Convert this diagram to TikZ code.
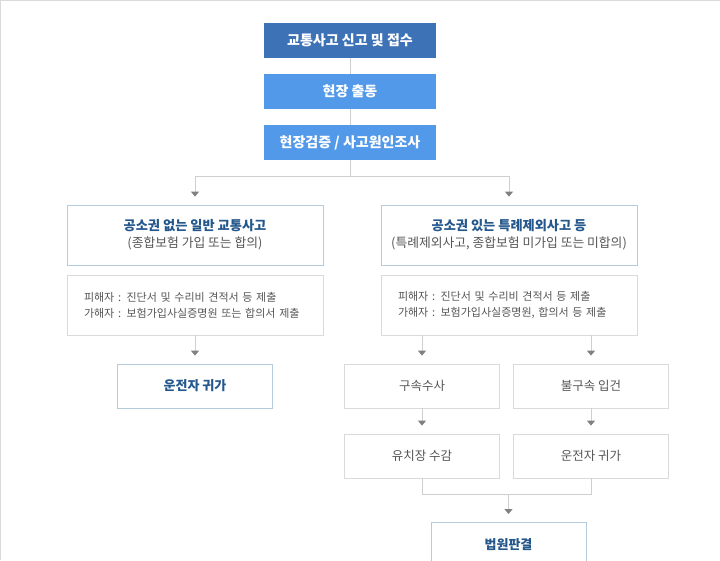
\documentclass[tikz,border=0pt]{standalone}
\usepackage{fontspec}
\setmainfont{Noto Sans CJK KR}
\usetikzlibrary{arrows.meta}
\definecolor{deepblue}{HTML}{3E72B6}
\definecolor{skyblue}{HTML}{5399EA}
\definecolor{titleblue}{HTML}{24578C}
\definecolor{edgeblue}{HTML}{B4CCDC}
\definecolor{edgegray}{HTML}{DADADA}
\definecolor{linegray}{HTML}{CFCFCF}
\definecolor{tipgray}{HTML}{808080}
\definecolor{textgray}{HTML}{555555}
\begin{document}
\begin{tikzpicture}[x=1pt, y=-1pt,
  box/.style={inner sep=0pt, align=center, line width=0.8pt},
  head/.style={box, fill=skyblue, text=white, minimum width=172pt, minimum height=35pt,
    font=\fontsize{14}{16}\selectfont\bfseries},
  case/.style={box, draw=edgeblue, minimum width=256pt, minimum height=60pt, text=textgray,
    font=\fontsize{12.8}{17}\selectfont},
  papers/.style={box, draw=edgegray, minimum width=256pt, minimum height=60pt, text width=222pt,
    align=left, text=textgray, font=\fontsize{11}{16}\selectfont},
  result/.style={box, draw=edgeblue, minimum width=155pt, minimum height=44pt, text=titleblue,
    font=\fontsize{13}{16}\selectfont\bfseries},
  stage/.style={box, draw=edgegray, minimum width=155pt, minimum height=44pt, text=textgray,
    font=\fontsize{12.5}{16}\selectfont},
  link/.style={draw=linegray, line width=1pt},
  flow/.style={link, shorten >=8pt, -{Triangle[width=8pt, length=5pt, color=tipgray]}}]
\useasboundingbox (0,0) rectangle (720,560);
\draw[edgegray] (0,0.5) -- (720,0.5);
\draw[edgegray] (0.5,0) -- (0.5,560);

\node[head, fill=deepblue] (report) at (350,40.5) {교통사고 신고 및 접수};
\node[head] (dispatch) at (350,91.5) {현장 출동};
\node[head] (survey) at (350,142.5) {현장검증 / 사고원인조사};
\draw[link] (report) -- (dispatch);
\draw[link] (dispatch) -- (survey);
\draw[link] (survey.south) -- ++(0,16) coordinate (split);

%%%%%%%%%%%%%%%%%%%%%%%%%%%%%%%%%%%%%%%%

\node[case] (nocharge) at (195,235)
  {{\color{titleblue}\fontsize{13.2}{17}\selectfont\bfseries 공소권 없는 일반 교통사고}\\(종합보험 가입 또는 합의)};
\node[papers] (nodocs) at (195,305)
  {피해자 : 진단서 및 수리비 견적서 등 제출\\가해자 : 보험가입사실증명원 또는 합의서 제출};
\node[result] (home) at (195,386) {운전자 귀가};
\draw[flow] (split) -| (nocharge);
\draw[flow] (nodocs) -- (home);

%%%%%%%%%%%%%%%%%%%%%%%%%%%%%%%%%%%%%%%%

\node[case] (charge) at (509,235)
  {{\color{titleblue}\fontsize{13.2}{17}\selectfont\bfseries 공소권 있는 특례제외사고 등}\\(특례제외사고, 종합보험 미가입 또는 미합의)};
\node[papers] (docs) at (509,305)
  {피해자 : 진단서 및 수리비 견적서 등 제출\\가해자 : 보험가입사실증명원, 합의서 등 제출};
\node[stage] (arrest) at (422,386) {구속수사};
\node[stage] (booked) at (591,386) {불구속 입건};
\node[stage] (jail) at (422,456) {유치장 수감};
\node[stage] (release) at (591,456) {운전자 귀가};
\node[result, anchor=north] (court) at (508.5,522) {법원판결};
\draw[flow] (split) -| (charge);
\draw[flow] (docs.south -| arrest) -- (arrest);
\draw[flow] (docs.south -| booked) -- (booked);
\draw[flow] (arrest) -- (jail);
\draw[flow] (booked) -- (release);
\draw[link] (jail.south) -- ++(0,16) coordinate (merge) -| (release.south);
\draw[flow] (merge -| court) -- (court);
\end{tikzpicture}
\end{document}
